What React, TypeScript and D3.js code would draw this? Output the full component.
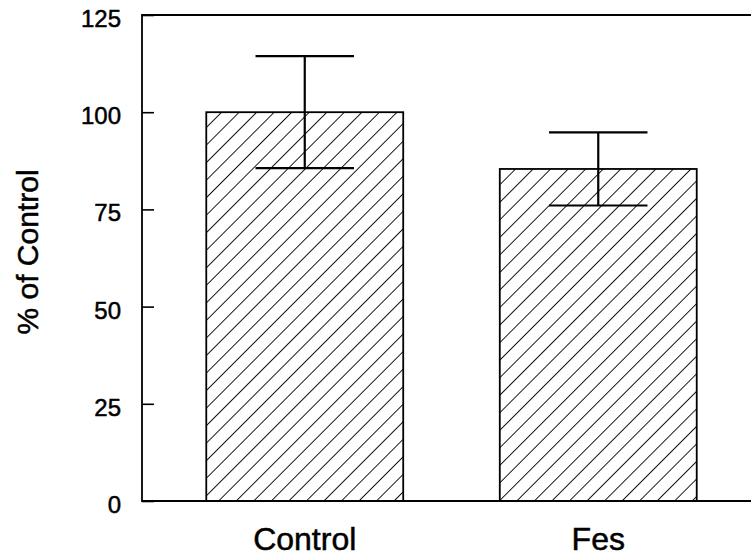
import React, { useEffect, useRef } from 'react';
import * as d3 from 'd3';

const categories = ["Control", "Fes"];
const means = [100, 85.4];
const errors = [14.4, 9.4];
const yTicks = [0, 25, 50, 75, 100, 125];

const App = () => {
    const svgRef = useRef<SVGSVGElement>(null);

    useEffect(() => {
        const height = 557;
        const marginLeft = 142;
        const marginTop = 15;
        const marginBottom = 56;
        const plotRight = 761;

        const svg = d3.select(svgRef.current);
        svg.selectAll("*").remove();

        const x = d3.scaleBand()
            .domain(categories)
            .range([marginLeft, plotRight])
            .paddingInner(0.329)
            .paddingOuter(0.219);

        const y = d3.scaleLinear()
            .domain([0, 125])
            .range([height - marginBottom, marginTop]);

        const font = "'Liberation Sans', Arial, Helvetica, sans-serif";

        // hatch pattern
        const defs = svg.append("defs");
        defs.append("pattern")
            .attr("id", "hatch")
            .attr("patternUnits", "userSpaceOnUse")
            .attr("width", 12.4)
            .attr("height", 12.4)
            .attr("patternTransform", "rotate(45)")
            .append("line")
            .attr("x1", 0).attr("y1", 0)
            .attr("x2", 0).attr("y2", 12.4)
            .attr("stroke", "#000")
            .attr("stroke-width", 1.8);

        // frame
        svg.append("path")
            .attr("d", `M${plotRight},${y(125)}H${marginLeft}V${y(0)}H${plotRight}`)
            .attr("fill", "none")
            .attr("stroke", "#000")
            .attr("stroke-width", 1.8);

        // bars
        svg.append("g")
            .selectAll()
            .data(categories)
            .join("rect")
            .attr("x", d => x(d)!)
            .attr("y", (d, i) => y(means[i]))
            .attr("width", x.bandwidth())
            .attr("height", (d, i) => y(0) - y(means[i]))
            .attr("fill", "url(#hatch)")
            .attr("stroke", "#000")
            .attr("stroke-width", 1.8);

        // error bars
        const err = svg.append("g")
            .attr("stroke", "#000")
            .attr("stroke-width", 2.2)
            .selectAll()
            .data(categories)
            .join("g");
        const capHalf = x.bandwidth() / 4;
        const cx = (d: string) => x(d)! + x.bandwidth() / 2;
        err.append("line")
            .attr("x1", cx)
            .attr("x2", cx)
            .attr("y1", (d, i) => y(means[i] + errors[i]))
            .attr("y2", (d, i) => y(means[i] - errors[i]));
        err.append("line")
            .attr("x1", d => cx(d) - capHalf)
            .attr("x2", d => cx(d) + capHalf)
            .attr("y1", (d, i) => y(means[i] + errors[i]))
            .attr("y2", (d, i) => y(means[i] + errors[i]));
        err.append("line")
            .attr("x1", d => cx(d) - capHalf)
            .attr("x2", d => cx(d) + capHalf)
            .attr("y1", (d, i) => y(means[i] - errors[i]))
            .attr("y2", (d, i) => y(means[i] - errors[i]));

        // y axis, inward ticks
        svg.append("g")
            .attr("transform", `translate(${marginLeft},0)`)
            .call(d3.axisRight(y).tickValues(yTicks).tickSize(12).tickFormat(() => ""))
            .call(g => g.select(".domain").remove())
            .call(g => g.selectAll(".tick line").attr("stroke", "#000").attr("stroke-width", 1.6));

        svg.append("g")
            .selectAll()
            .data(yTicks)
            .join("text")
            .attr("x", 121)
            .attr("y", d => y(d) + 12)
            .attr("text-anchor", "end")
            .attr("font-family", font)
            .attr("font-size", 24)
            .attr("fill", "#000")
            .attr("stroke", "#000")
            .attr("stroke-width", 0.5)
            .text(d => d);

        // x labels
        svg.append("g")
            .selectAll()
            .data(categories)
            .join("text")
            .attr("x", cx)
            .attr("y", 550)
            .attr("text-anchor", "middle")
            .attr("font-family", font)
            .attr("font-size", 32)
            .attr("fill", "#000")
            .attr("stroke", "#000")
            .attr("stroke-width", 0.5)
            .text(d => d);

        // y title
        svg.append("text")
            .attr("transform", `translate(38,252) rotate(-90)`)
            .attr("text-anchor", "middle")
            .attr("font-family", font)
            .attr("font-size", 30)
            .attr("fill", "#000")
            .attr("stroke", "#000")
            .attr("stroke-width", 0.5)
            .text("% of Control");
    }, []);

    return (
        <svg
            ref={svgRef}
            width={751}
            height={557}
            style={{ position: "absolute", left: 0, top: 0, display: "block", background: "#fff" }}
        />
    );
};

export default App;
